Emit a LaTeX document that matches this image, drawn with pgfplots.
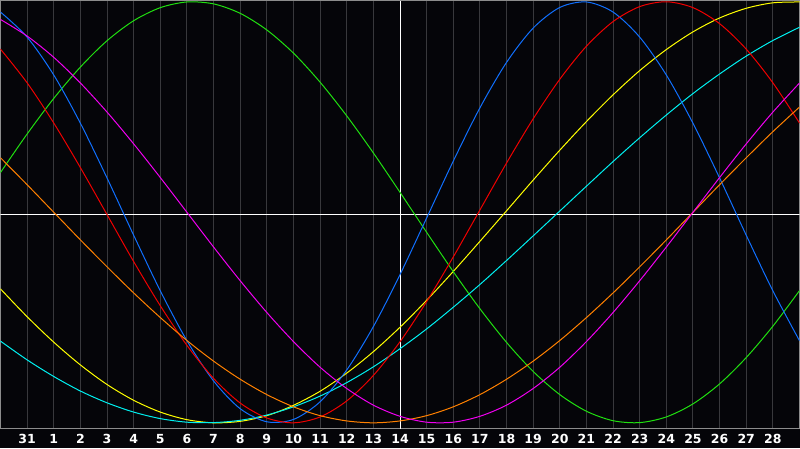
\documentclass[border=0pt]{standalone}
\usepackage{fontspec}
\setmainfont{DejaVu Sans}
\usepackage{pgfplots}
\usepackage{pgfplotstable}
\pgfplotsset{compat=1.18}

\definecolor{bg}{RGB}{5,5,9}
\definecolor{framegray}{RGB}{140,140,140}
\definecolor{gridgray}{RGB}{56,56,60}
\definecolor{cgreen}{RGB}{32,224,16}
\definecolor{cblue}{RGB}{16,112,255}
\definecolor{cred}{RGB}{240,0,0}
\definecolor{cyellow}{RGB}{255,255,0}
\definecolor{ccyan}{RGB}{0,240,240}
\definecolor{corange}{RGB}{255,128,0}
\definecolor{cmagenta}{RGB}{240,0,240}

% day index (0 = 31st of last month) and cycle value, -1 ... 1
\pgfplotstableread{
u  green  blue   red    yellow cyan   orange magenta
0  0.189  0.951  0.775 -0.364 -0.612  0.259  0.916
1  0.372  0.832  0.615 -0.496 -0.701  0.131  0.837
2  0.541  0.652  0.424 -0.617 -0.780  0.000  0.736
3  0.690  0.423  0.212 -0.725 -0.849 -0.131  0.614
4  0.815  0.163 -0.011 -0.818 -0.905 -0.259  0.476
5  0.910 -0.109 -0.234 -0.893 -0.949 -0.383  0.325
6  0.972 -0.373 -0.444 -0.949 -0.980 -0.500  0.165
7  0.999 -0.610 -0.632 -0.985 -0.997 -0.609  0.000
8  0.990 -0.801 -0.789 -1.000 -0.999 -0.707 -0.165
9  0.945 -0.933 -0.906 -0.993 -0.988 -0.793 -0.325
10 0.866 -0.995 -0.977 -0.966 -0.963 -0.866 -0.476
11 0.756 -0.984 -1.000 -0.917 -0.924 -0.924 -0.614
12 0.618 -0.900 -0.972 -0.850 -0.873 -0.966 -0.736
13 0.458 -0.749 -0.896 -0.764 -0.809 -0.991 -0.837
14 0.282 -0.543 -0.775 -0.662 -0.734 -1.000 -0.916
15 0.095 -0.296 -0.615 -0.546 -0.648 -0.991 -0.969
16 -0.095 -0.027 -0.424 -0.418 -0.554 -0.966 -0.997
17 -0.282 0.243 -0.212 -0.281 -0.451 -0.924 -0.997
18 -0.458 0.496  0.011 -0.138 -0.343 -0.866 -0.969
19 -0.618 0.712  0.234  0.007 -0.229 -0.793 -0.916
20 -0.756 0.875  0.444  0.153 -0.112 -0.707 -0.837
21 -0.866 0.973  0.632  0.295  0.006 -0.609 -0.736
22 -0.945 0.999  0.789  0.431  0.124 -0.500 -0.614
23 -0.990 0.951  0.906  0.558  0.241 -0.383 -0.476
24 -0.999 0.832  0.977  0.673  0.354 -0.259 -0.325
25 -0.972 0.652  1.000  0.773  0.462 -0.131 -0.165
26 -0.910 0.423  0.972  0.857  0.564  0.000  0.000
27 -0.815 0.163  0.896  0.923  0.657  0.131  0.165
28 -0.690 -0.109 0.775  0.969  0.742  0.259  0.325
29 -0.541 -0.373 0.615  0.995  0.816  0.383  0.476
30 -0.372 -0.610 0.424  0.999  0.879  0.500  0.614
}\cycles

\begin{document}
\begin{tikzpicture}
\path[use as bounding box, fill=bg] (0,0) rectangle (800pt,448pt);
\begin{axis}[
    at={(0.5pt,19.5pt)}, anchor=south west,
    scale only axis,
    width=799pt, height=428pt,
    xmin=0, xmax=30,
    ymin=-1.027, ymax=1.006,
    axis line style={draw=framegray, line width=1pt},
    xtick={1,...,29},
    xticklabels={31,1,2,3,4,5,6,7,8,9,10,11,12,13,14,15,16,17,18,19,20,21,22,23,24,25,26,27,28},
    ytick=\empty,
    major tick length=0pt,
    xmajorgrids,
    grid style={draw=gridgray, line width=1pt},
    xticklabel style={anchor=base, yshift=-15pt, inner sep=0pt, text=white,
        font=\bfseries\fontsize{12.5}{12.5}\selectfont},
    every axis plot/.append style={line width=1pt, smooth, no markers},
]
\draw[white, line width=1pt] (axis cs:0,-0.01) -- (axis cs:30,-0.01);
\draw[white, line width=1pt] (axis cs:15,-1.027) -- (axis cs:15,1.006);
\addplot[cyellow]  table[x=u, y=yellow]  {\cycles};
\addplot[ccyan]    table[x=u, y=cyan]    {\cycles};
\addplot[cgreen]   table[x=u, y=green]   {\cycles};
\addplot[cblue]    table[x=u, y=blue]    {\cycles};
\addplot[cred]     table[x=u, y=red]     {\cycles};
\addplot[corange]  table[x=u, y=orange]  {\cycles};
\addplot[cmagenta] table[x=u, y=magenta] {\cycles};
\end{axis}
\end{tikzpicture}
\end{document}
